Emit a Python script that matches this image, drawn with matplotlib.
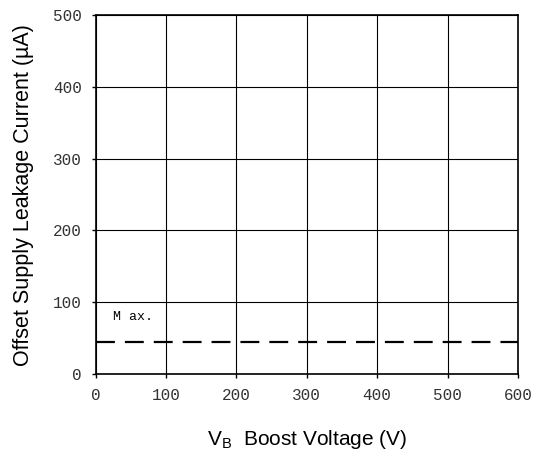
import numpy as np
import matplotlib.pyplot as plt

# boost voltage range and the max leakage limit line
vb = [0, 600]
i_max = [45, 45]
x_ticks = [0, 100, 200, 300, 400, 500, 600]
y_ticks = [0, 100, 200, 300, 400, 500]

fig = plt.figure(figsize=(5.35, 4.53), dpi=100)
ax = fig.add_axes([0.179, 0.174, 0.789, 0.793])

ax.plot(vb, i_max, color='black', lw=1.6, ls=(0, (8.5, 4.5)))
ax.text(24, 80, 'M ax.', family='Liberation Mono', fontsize=9.5, va='center')

ax.set_xlim(0, 600)
ax.set_ylim(0, 500)
ax.set_xticks(x_ticks)
ax.set_yticks(y_ticks)
ax.grid(True, color='black', lw=0.8)
for s in ax.spines.values():
    s.set_linewidth(1.2)
ax.tick_params(direction='out', length=3, width=1, labelsize=11.5, colors='black',
               labelcolor='#333333', pad=7)
for lab in ax.get_xticklabels() + ax.get_yticklabels():
    lab.set_family('Liberation Mono')

ax.set_xlabel('V$_\\mathregular{B}$  Boost Voltage (V)', family='Liberation Sans',
              fontsize=15, labelpad=18)
ax.set_ylabel('Offset Supply Leakage Current (\u00b5A)', family='Liberation Sans',
              fontsize=15.5, labelpad=14)

fig.savefig('out.png', dpi=100)
